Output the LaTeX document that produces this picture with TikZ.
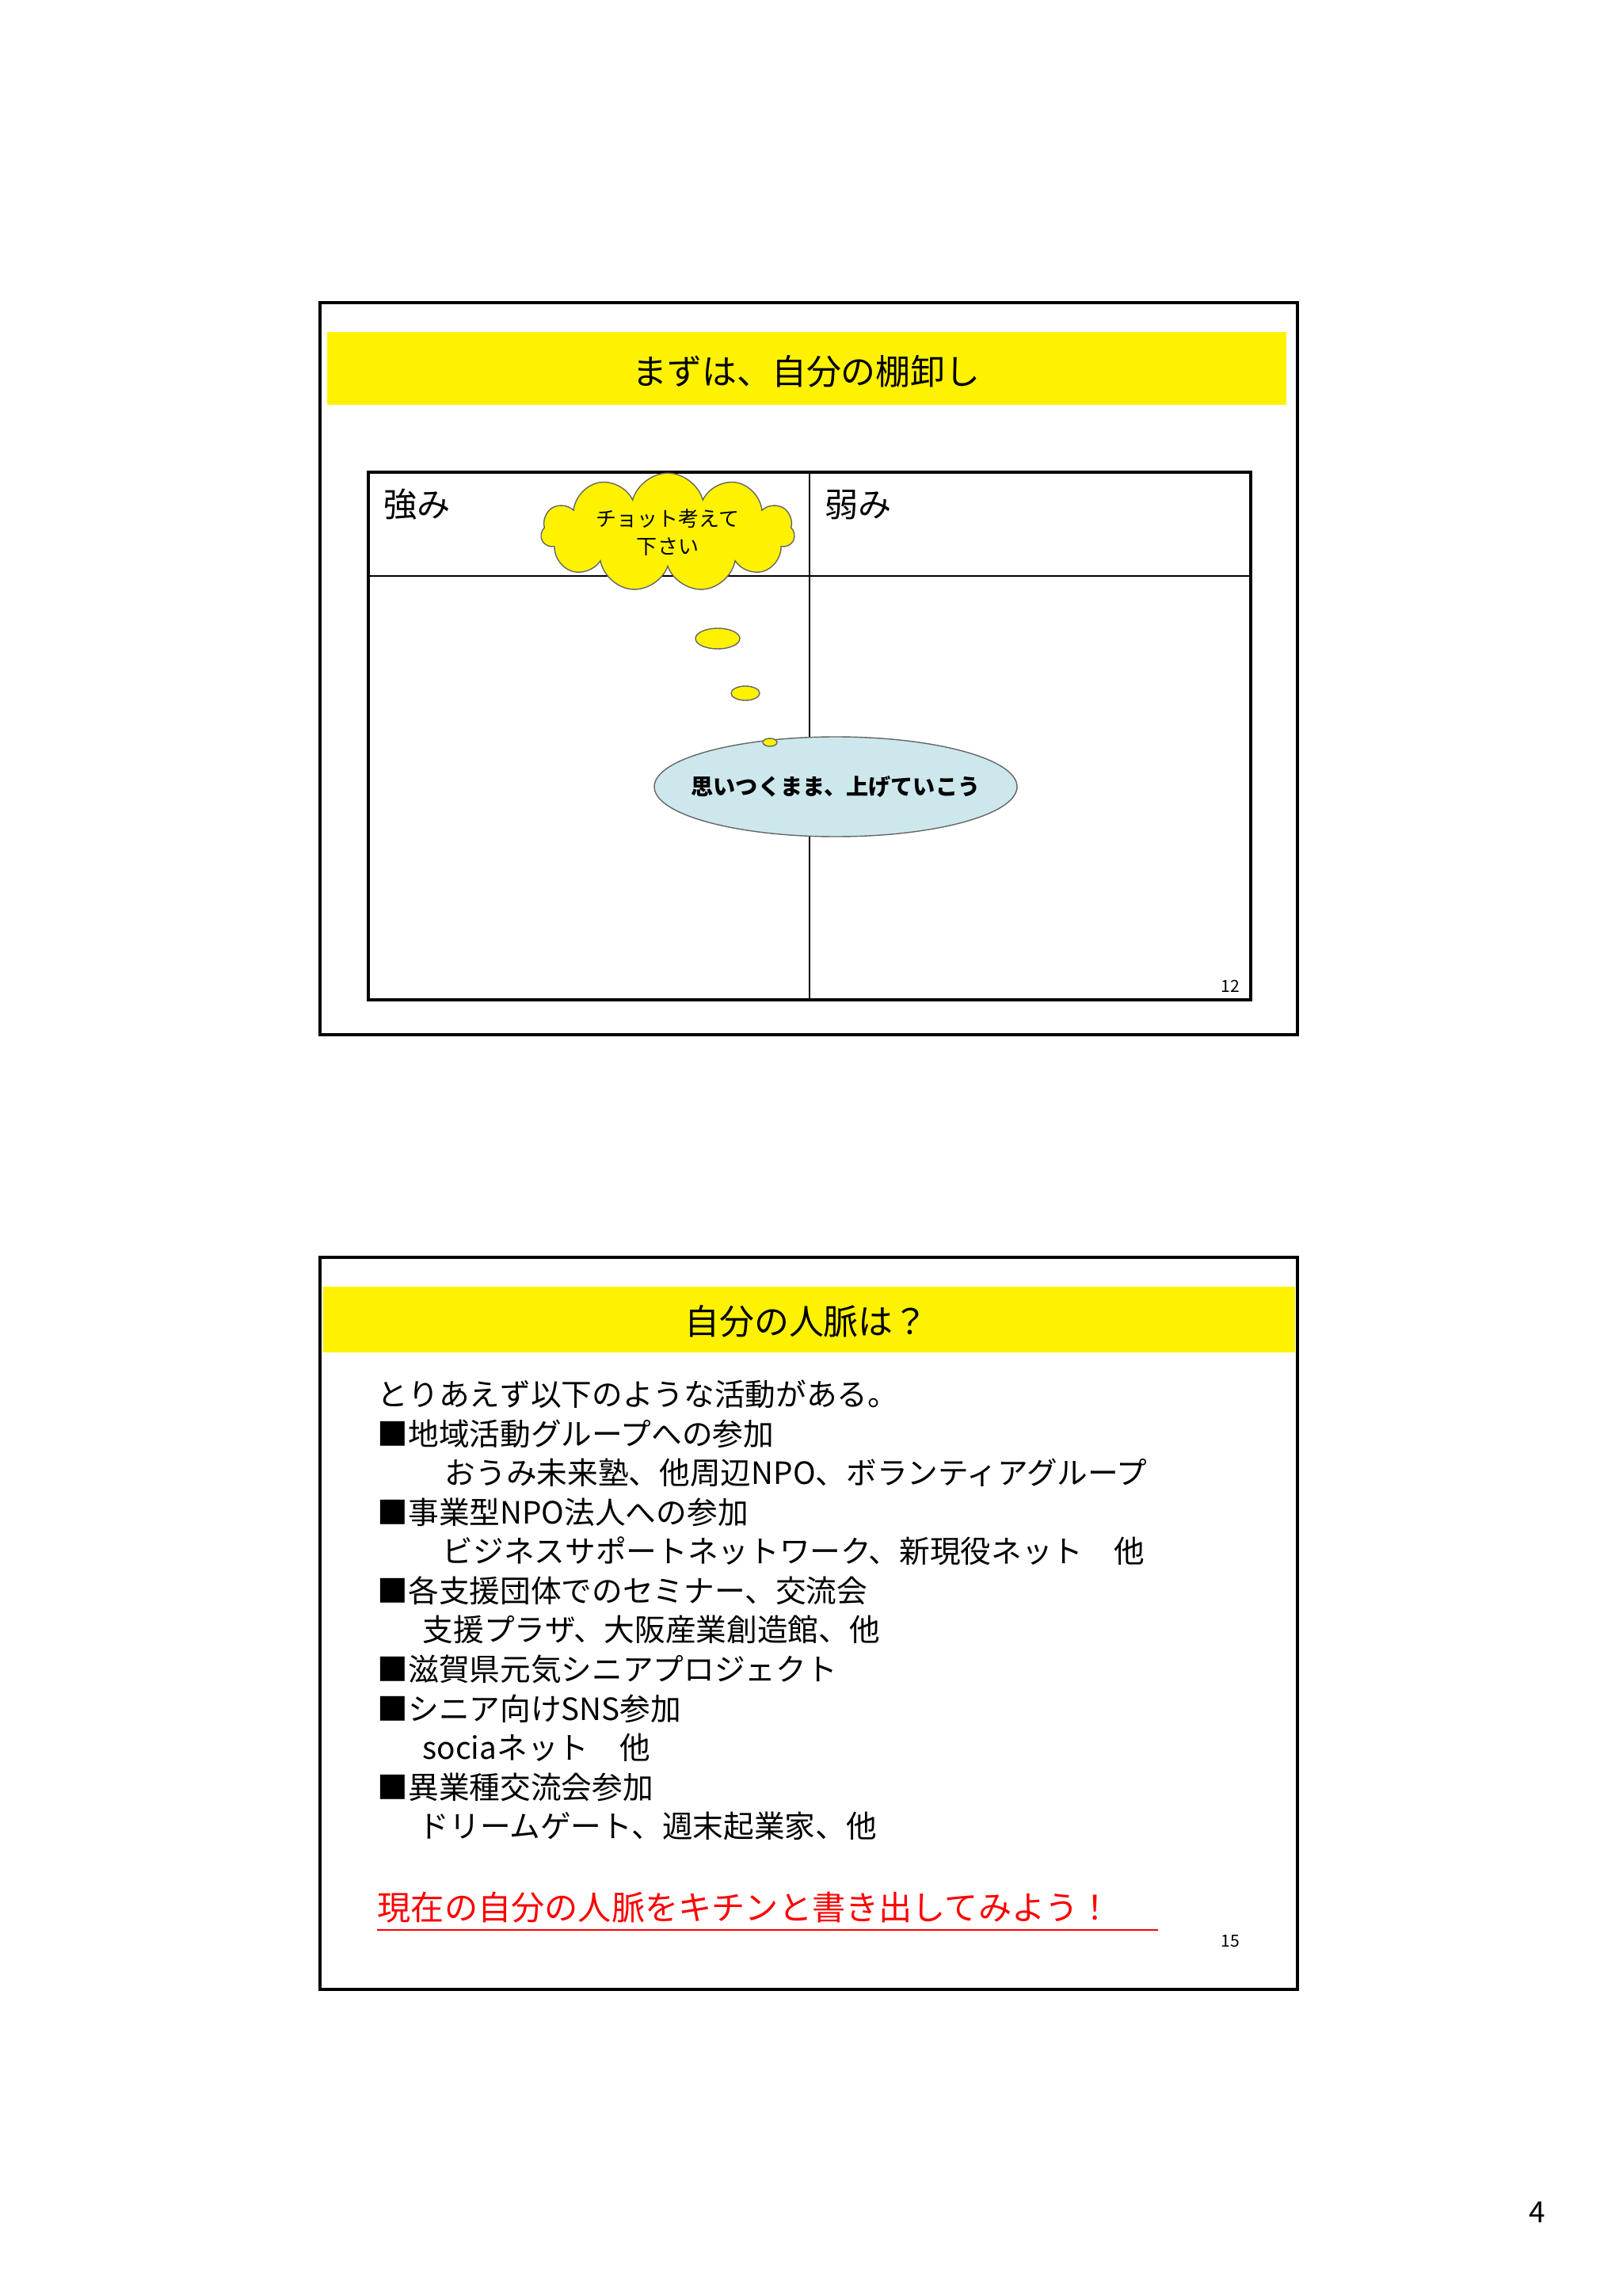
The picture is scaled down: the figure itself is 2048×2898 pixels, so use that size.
\documentclass[tikz,border=0pt]{standalone}
\usepackage{fontspec}
\setmainfont{Noto Sans CJK JP}
\usetikzlibrary{shapes.symbols}
\tikzset{
 slide/.style={draw=black,line width=1.2pt},
 bar/.style={fill=yellow,draw=none},
 bub/.style={draw=black!60,fill=yellow,line width=0.4pt},
 body/.style={anchor=west,inner sep=0pt,font=\fontsize{11}{13}\selectfont},
}
\begin{document}
\begin{tikzpicture}[x=0.01cm,y=-0.01cm]
\useasboundingbox (0,0) rectangle (2048,2898);
\fill[white] (0,0) rectangle (2048,2898);
% slide 1
\draw[slide] (404,382) rectangle (1638,1306);
\fill[bar] (413,419) rectangle (1624,511);
\node[font=\fontsize{12.5}{14}\selectfont] (t1) at (1018,469) {まずは、自分の棚卸し};
\draw[line width=1.2pt] (465,596) rectangle (1579,1262);
\draw[line width=0.5pt] (1022,596) -- (1022,1262);
\draw[line width=0.5pt] (465,727) -- (1579,727);
\node[anchor=west,font=\fontsize{12}{14}\selectfont] (s) at (472,637) {強み};
\node[anchor=west,font=\fontsize{12}{14}\selectfont] (w) at (1029,637) {弱み};
\node[cloud,cloud puffs=11,aspect=2.6,bub,inner sep=0pt,minimum width=3.2cm,minimum height=1.3cm,align=center,font=\fontsize{7.4}{10}\selectfont] (cl) at (843,672) {チョット考えて\\下さい};
\draw[bub] (906,806) ellipse (28 and 13);
\draw[bub] (941,875) ellipse (18 and 9);
\draw[black!60,fill={rgb,255:red,204;green,232;blue,236},line width=0.4pt] (1055,993) ellipse (229 and 63);
\draw[bub] (972,937) ellipse (9 and 5);
\node[font=\bfseries\fontsize{8}{10}\selectfont] (e) at (1055,993) {思いつくまま、上げていこう};
\node[font=\fontsize{6}{7}\selectfont] (n12) at (1553,1245) {12};
% slide 2
\draw[slide] (404,1587) rectangle (1638,2511);
\fill[bar] (408,1624) rectangle (1635,1707);
\node[font=\fontsize{12.5}{14}\selectfont] (t2) at (1018,1668) {自分の人脈は？};
\node[body] (l1) at (476,1760) {とりあえず以下のような活動がある。};
\node[body] (l2) at (476,1810) {■地域活動グループへの参加};
\node[body] (l3) at (561,1859) {おうみ未来塾、他周辺NPO、ボランティアグループ};
\node[body] (l4) at (476,1909) {■事業型NPO法人への参加};
\node[body] (l5) at (558,1958) {ビジネスサポートネットワーク、新現役ネット\quad 他};
\node[body] (l6) at (476,2008) {■各支援団体でのセミナー、交流会};
\node[body] (l7) at (533,2057) {支援プラザ、大阪産業創造館、他};
\node[body] (l8) at (476,2107) {■滋賀県元気シニアプロジェクト};
\node[body] (l9) at (476,2157) {■シニア向けSNS参加};
\node[body] (l10) at (533,2206) {sociaネット\quad 他};
\node[body] (l11) at (476,2256) {■異業種交流会参加};
\node[body] (l12) at (528,2305) {ドリームゲート、週末起業家、他};
\node[body,text=red,font=\fontsize{12}{14}\selectfont] (red) at (476,2408) {現在の自分の人脈をキチンと書き出してみよう！};
\draw[red,line width=0.8pt] (476,2436) -- (1462,2436);
\node[font=\fontsize{6}{7}\selectfont] (n15) at (1553,2450) {15};
\node[font=\fontsize{10.5}{12}\selectfont] (p4) at (1941,2792) {4};
\end{tikzpicture}
\end{document}
